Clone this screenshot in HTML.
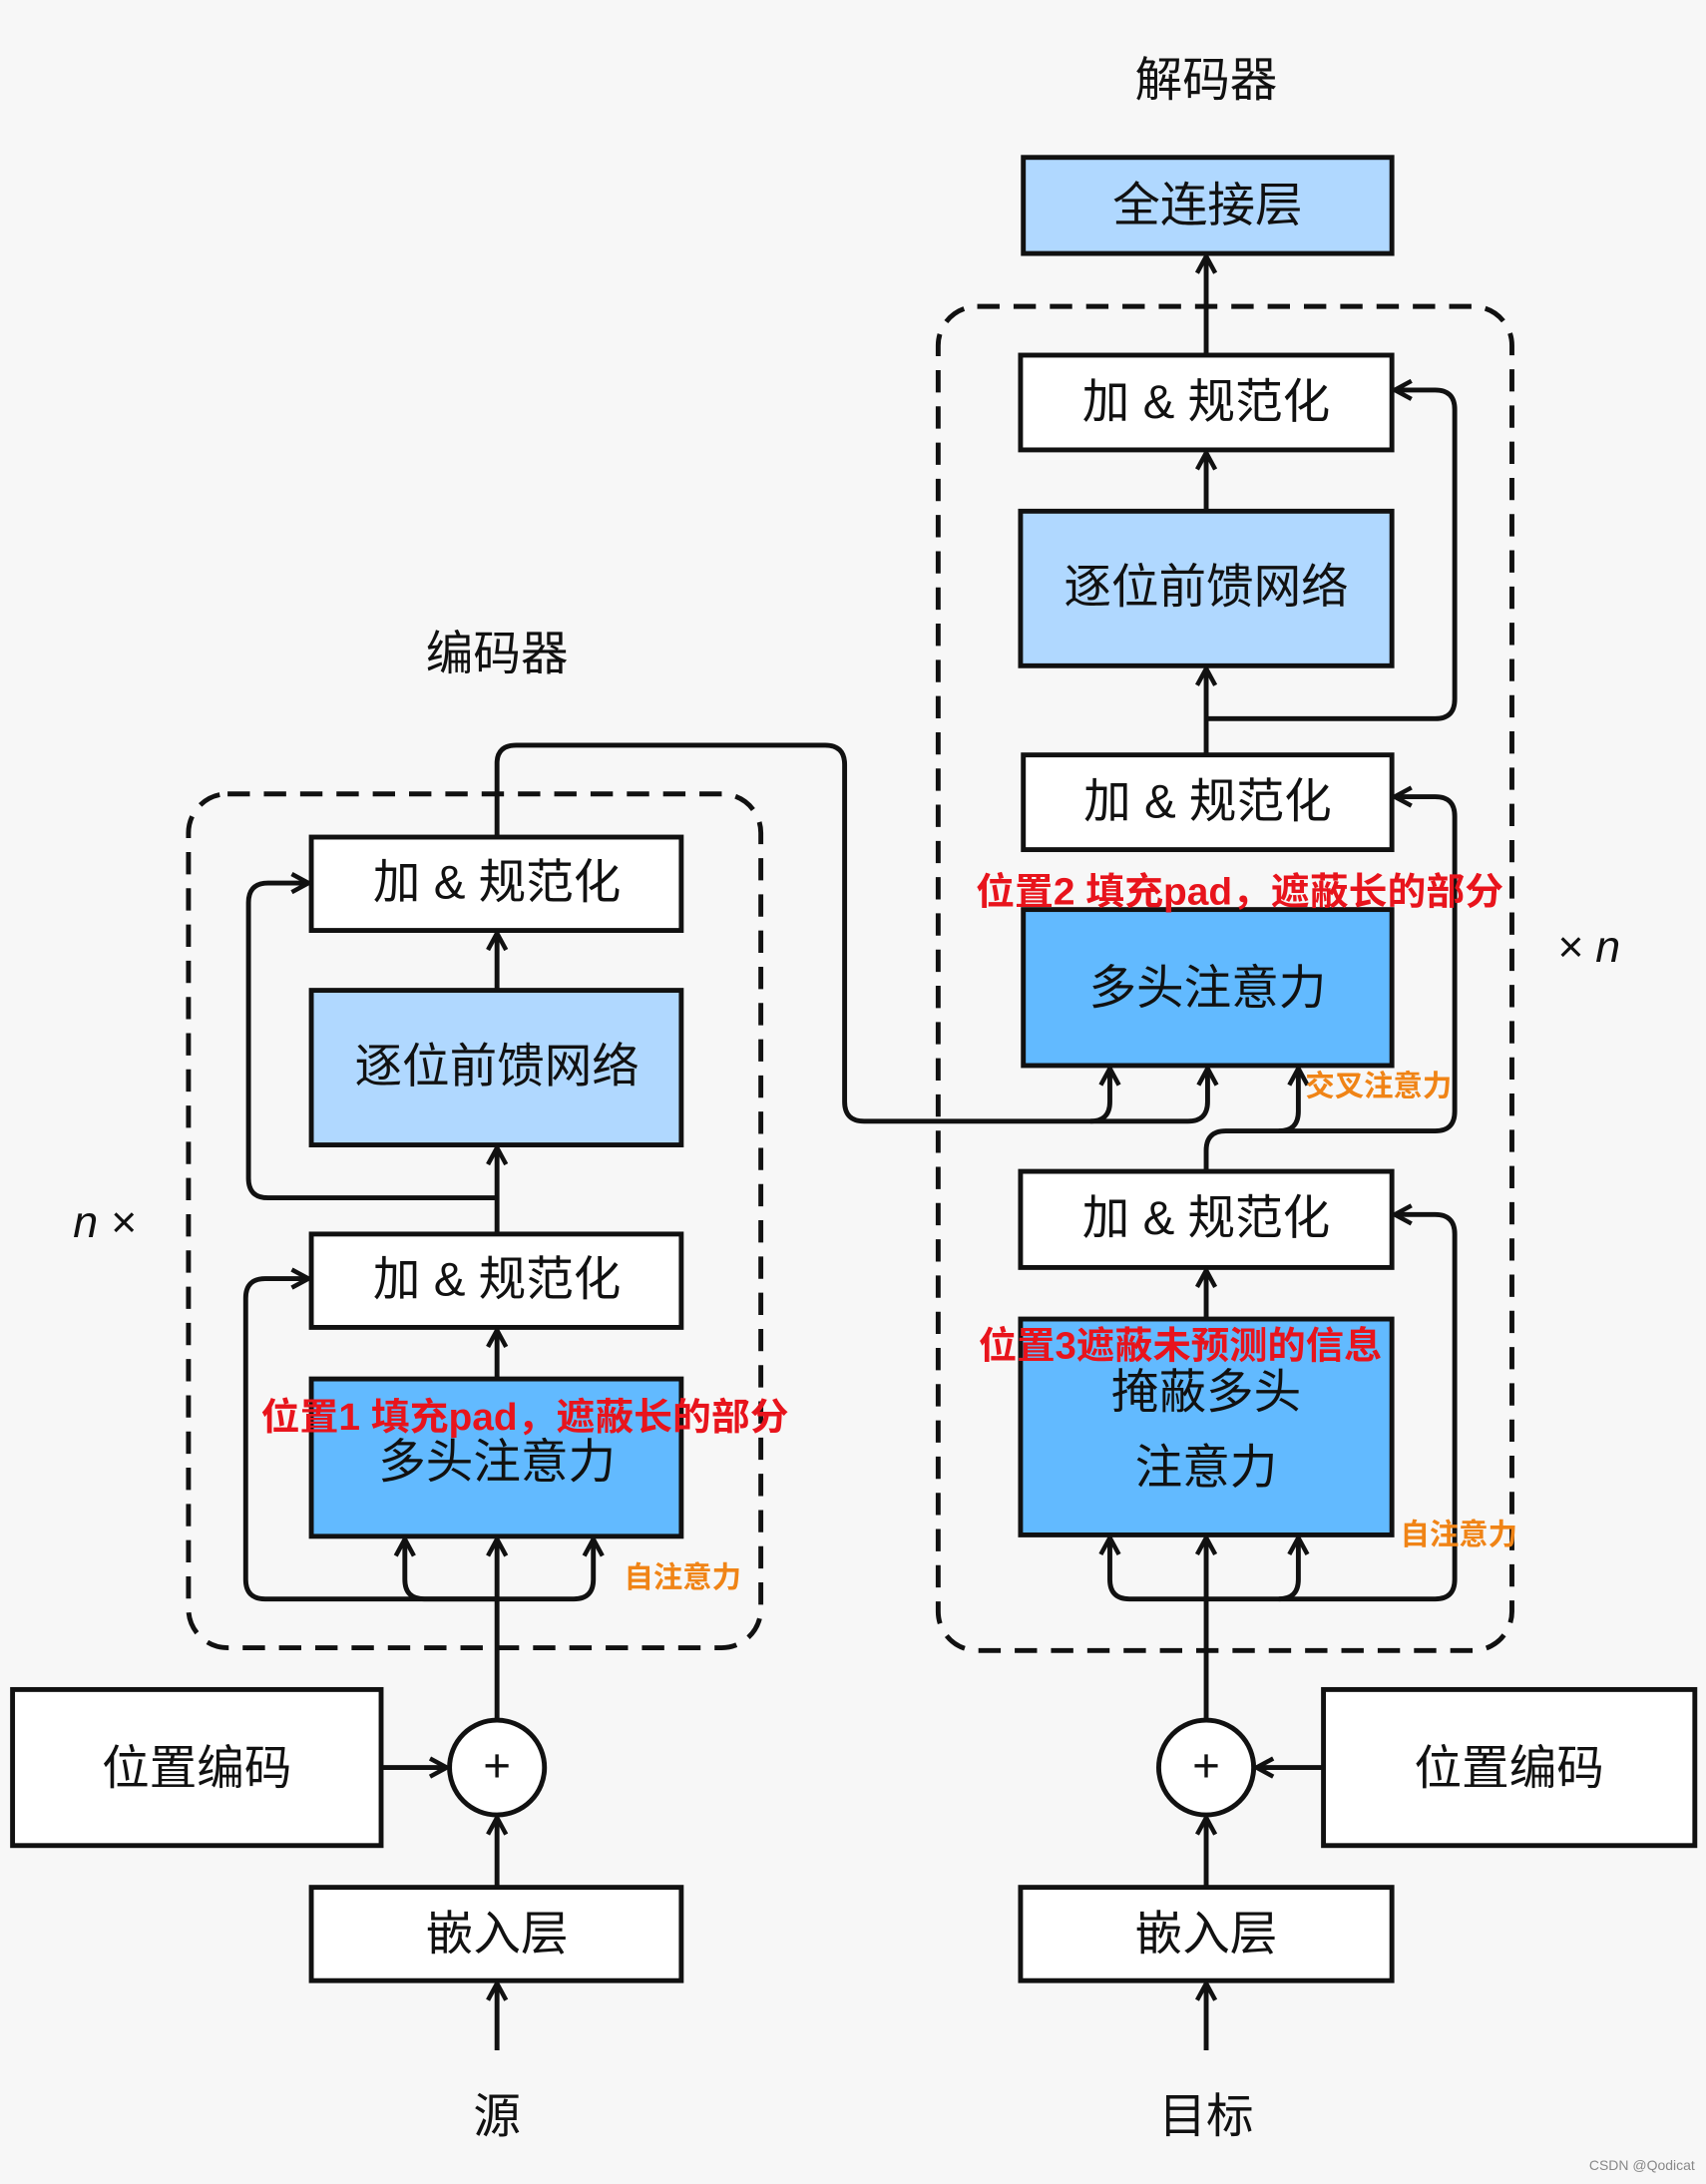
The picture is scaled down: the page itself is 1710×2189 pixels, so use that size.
<!DOCTYPE html>
<html><head><meta charset="utf-8"><style>
html,body{margin:0;padding:0;background:#f7f7f7;}
svg{display:block;}
text{font-family:"Liberation Sans","Noto Sans CJK SC",sans-serif;}
</style></head><body>
<svg width="1710" height="2189" viewBox="0 0 1222 1568" preserveAspectRatio="none" xmlns="http://www.w3.org/2000/svg">
<defs>
<marker id="a" markerWidth="16" markerHeight="16" refX="14" refY="8" orient="auto" markerUnits="userSpaceOnUse" viewBox="0 0 16 16">
<path d="M2,1.5 L14,8 L2,14.5" fill="none" stroke="#111" stroke-width="3.2" stroke-linejoin="miter"/>
</marker>
<style>
.b{stroke:#111;stroke-width:3.5;}
.l{stroke:#111;stroke-width:3.5;fill:none;stroke-linejoin:round;}
.t{font-size:34px;fill:#111;text-anchor:middle;dominant-baseline:central;}
.r{font-size:27px;fill:#e8141c;font-weight:bold;dominant-baseline:central;}
.o{font-size:21px;fill:#f08416;font-weight:bold;dominant-baseline:central;}
</style>
</defs>
<rect x="0" y="0" width="1222" height="1568" fill="#f7f7f7"/>

<!-- Encoder -->
<text class="t" x="356" y="470" font-size="36">编码器</text>
<rect x="135" y="570" width="410" height="613" rx="28" fill="none" stroke="#111" stroke-width="3.5" stroke-dasharray="16,10"/>
<rect class="b" x="223" y="601" width="265" height="67" fill="#fff"/>
<text class="t" x="356" y="634">加 &amp; 规范化</text>
<rect class="b" x="223" y="711" width="265" height="111" fill="#b0d8ff"/>
<text class="t" x="356" y="766">逐位前馈网络</text>
<rect class="b" x="223" y="886" width="265" height="67" fill="#fff"/>
<text class="t" x="356" y="919">加 &amp; 规范化</text>
<rect class="b" x="223" y="990" width="265" height="113" fill="#62baff"/>
<text class="t" x="356" y="1050" font-size="38">多头注意力</text>
<rect class="b" x="9" y="1213" width="264" height="112" fill="#fff"/>
<text class="t" x="141" y="1270" font-size="38">位置编码</text>
<circle cx="356" cy="1269" r="34" fill="#fff" stroke="#111" stroke-width="3.5"/>
<text class="t" x="356" y="1268" font-size="34">+</text>
<rect class="b" x="223" y="1355" width="265" height="67" fill="#fff"/>
<text class="t" x="356" y="1389">嵌入层</text>
<text class="t" x="356" y="1520" font-size="36">源</text>

<line class="l" x1="356" y1="1472" x2="356" y2="1424" marker-end="url(#a)"/>
<line class="l" x1="356" y1="1355" x2="356" y2="1305" marker-end="url(#a)"/>
<line class="l" x1="273" y1="1269" x2="320" y2="1269" marker-end="url(#a)"/>
<line class="l" x1="356" y1="1235" x2="356" y2="1105" marker-end="url(#a)"/>
<path class="l" d="M356,1148 H190 Q176,1148 176,1134 V932 Q176,918 190,918 H221" marker-end="url(#a)"/>
<path class="l" d="M356,1148 H304 Q290,1148 290,1134 V1105" marker-end="url(#a)"/>
<path class="l" d="M356,1148 H411 Q425,1148 425,1134 V1105" marker-end="url(#a)"/>
<line class="l" x1="356" y1="990" x2="356" y2="955" marker-end="url(#a)"/>
<line class="l" x1="356" y1="886" x2="356" y2="824" marker-end="url(#a)"/>
<path class="l" d="M356,860 H192 Q178,860 178,846 V648 Q178,634 192,634 H221" marker-end="url(#a)"/>
<line class="l" x1="356" y1="711" x2="356" y2="670" marker-end="url(#a)"/>
<path class="l" d="M356,601 V548 Q356,535 370,535 H591 Q605,535 605,549 V791 Q605,805 619,805 H781 Q795,805 795,791 V767" marker-end="url(#a)"/>
<path class="l" d="M781,805 H851 Q865,805 865,791 V767" marker-end="url(#a)"/>
<text x="75" y="878" font-family="Liberation Serif,serif" font-size="32" font-style="italic" text-anchor="middle" dominant-baseline="central" fill="#111">n ×</text>
<text class="r" x="187" y="1017" textLength="378" lengthAdjust="spacingAndGlyphs">位置1 填充pad，遮蔽长的部分</text>
<text class="o" x="447" y="1133">自注意力</text>

<!-- Decoder -->
<text class="t" x="864" y="58" font-size="36">解码器</text>
<rect class="b" x="733" y="113" width="264" height="69" fill="#b0d8ff"/>
<text class="t" x="865" y="148" font-size="38">全连接层</text>
<rect x="672" y="220" width="411" height="965" rx="28" fill="none" stroke="#111" stroke-width="3.5" stroke-dasharray="16,10"/>
<rect class="b" x="731" y="255" width="266" height="68" fill="#fff"/>
<text class="t" x="864" y="289">加 &amp; 规范化</text>
<rect class="b" x="731" y="367" width="266" height="111" fill="#b0d8ff"/>
<text class="t" x="864" y="422">逐位前馈网络</text>
<rect class="b" x="733" y="542" width="264" height="68" fill="#fff"/>
<text class="t" x="865" y="576">加 &amp; 规范化</text>
<rect class="b" x="733" y="653" width="264" height="112" fill="#62baff"/>
<text class="t" x="865" y="710" font-size="38">多头注意力</text>
<rect class="b" x="731" y="841" width="266" height="69" fill="#fff"/>
<text class="t" x="864" y="875">加 &amp; 规范化</text>
<rect class="b" x="731" y="947" width="266" height="155" fill="#62baff"/>
<text class="t" x="864" y="1000" font-size="38">掩蔽多头</text>
<text class="t" x="864" y="1054" font-size="38">注意力</text>
<circle cx="864" cy="1269" r="34" fill="#fff" stroke="#111" stroke-width="3.5"/>
<text class="t" x="864" y="1268" font-size="34">+</text>
<rect class="b" x="948" y="1213" width="266" height="112" fill="#fff"/>
<text class="t" x="1081" y="1270" font-size="38">位置编码</text>
<rect class="b" x="731" y="1355" width="266" height="67" fill="#fff"/>
<text class="t" x="864" y="1389">嵌入层</text>
<text class="t" x="864" y="1520" font-size="36">目标</text>

<line class="l" x1="864" y1="1472" x2="864" y2="1424" marker-end="url(#a)"/>
<line class="l" x1="864" y1="1355" x2="864" y2="1305" marker-end="url(#a)"/>
<line class="l" x1="948" y1="1269" x2="900" y2="1269" marker-end="url(#a)"/>
<line class="l" x1="864" y1="1235" x2="864" y2="1104" marker-end="url(#a)"/>
<path class="l" d="M864,1148 H809 Q795,1148 795,1134 V1104" marker-end="url(#a)"/>
<path class="l" d="M864,1148 H916 Q930,1148 930,1134 V1104" marker-end="url(#a)"/>
<path class="l" d="M916,1148 H1028 Q1042,1148 1042,1134 V886 Q1042,872 1028,872 H999" marker-end="url(#a)"/>
<line class="l" x1="864" y1="947" x2="864" y2="912" marker-end="url(#a)"/>
<path class="l" d="M864,841 V826 Q864,812 878,812 H916 Q930,812 930,798 V767" marker-end="url(#a)"/>
<path class="l" d="M916,812 H1028 Q1042,812 1042,798 V586 Q1042,572 1028,572 H999" marker-end="url(#a)"/>
<line class="l" x1="864" y1="542" x2="864" y2="480" marker-end="url(#a)"/>
<path class="l" d="M864,516 H1028 Q1042,516 1042,502 V294 Q1042,280 1028,280 H999" marker-end="url(#a)"/>
<line class="l" x1="864" y1="367" x2="864" y2="325" marker-end="url(#a)"/>
<line class="l" x1="864" y1="255" x2="864" y2="184" marker-end="url(#a)"/>
<text x="1138" y="680" font-family="Liberation Serif,serif" font-size="32" font-style="italic" text-anchor="middle" dominant-baseline="central" fill="#111">× n</text>
<text class="r" x="699" y="640" textLength="378" lengthAdjust="spacingAndGlyphs">位置2 填充pad，遮蔽长的部分</text>
<text class="r" x="701" y="966" textLength="289" lengthAdjust="spacingAndGlyphs">位置3遮蔽未预测的信息</text>
<text class="o" x="935" y="780">交叉注意力</text>
<text class="o" x="1003" y="1102">自注意力</text>
<text x="1214" y="1558" font-size="10" fill="#888" text-anchor="end">CSDN @Qodicat</text>
</svg>
</body></html>
